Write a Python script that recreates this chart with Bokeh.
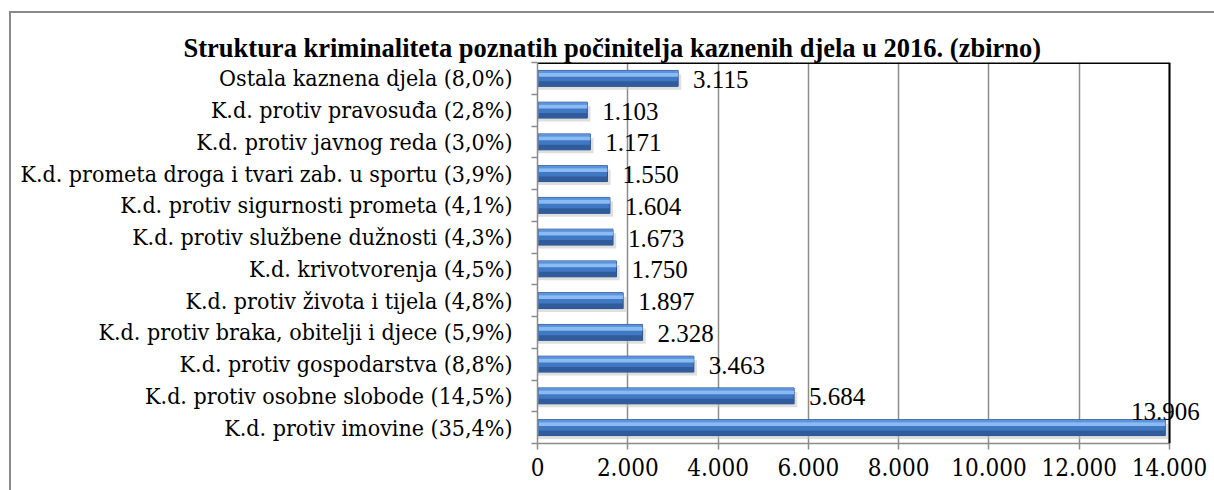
import numpy as np
from bokeh.plotting import figure
from bokeh.models import (ColumnDataSource, FixedTicker, Range1d, LabelSet, Span)
from bokeh.core.properties import field
from bokeh.embed import file_html
from bokeh.resources import INLINE

# ---------------- data ----------------
categories = [
    "K.d. protiv imovine (35,4%)",
    "K.d. protiv osobne slobode (14,5%)",
    "K.d. protiv gospodarstva (8,8%)",
    "K.d. protiv braka, obitelji i djece (5,9%)",
    "K.d. protiv života i tijela (4,8%)",
    "K.d. krivotvorenja (4,5%)",
    "K.d. protiv službene dužnosti (4,3%)",
    "K.d. protiv sigurnosti prometa (4,1%)",
    "K.d. prometa droga i tvari zab. u sportu (3,9%)",
    "K.d. protiv javnog reda (3,0%)",
    "K.d. protiv pravosuđa (2,8%)",
    "Ostala kaznena djela (8,0%)",
]
values = [13906, 5684, 3463, 2328, 1897, 1750, 1673, 1604, 1550, 1171, 1103, 3115]
value_labels = ["13.906", "5.684", "3.463", "2.328", "1.897", "1.750",
                "1.673", "1.604", "1.550", "1.171", "1.103", "3.115"]
x_ticks = [0, 2000, 4000, 6000, 8000, 10000, 12000, 14000]
x_tick_labels = ["0", "2.000", "4.000", "6.000", "8.000", "10.000", "12.000", "14.000"]
title_text = "Struktura kriminaliteta poznatih počinitelja kaznenih djela u 2016. (zbirno)"

SERIF = "DejaVu Serif Condensed"
SERIF_BOLD = "Liberation Serif"
n = len(categories)
yc = np.arange(n) + 0.5
vals = np.array(values, dtype=float)
xmax = x_ticks[-1]

W, H = 1214, 490
F_LEFT, F_AXIS_RIGHT, F_RIGHT, F_TOP, F_BOTTOM = 537, 1169, 1209, 62, 443
x_end = xmax * (F_RIGHT - F_LEFT) / (F_AXIS_RIGHT - F_LEFT)

# labels that would pass the axis end are lifted above the bar end
over = vals + 0.12 * xmax > xmax
x_off = np.where(over, 0, 15)
y_off = np.where(over, 16, -1)
align = ["center" if o else "left" for o in over]

src = ColumnDataSource(dict(
    y=yc, v=vals, lab=value_labels, xo=x_off, yo=y_off, al=align,
    sh_top=yc + 0.12, sh_bot=yc - 0.36, sh_r=vals + 70,
    t1=yc + 0.25, b1=yc + 0.17,
    t2=yc + 0.17, b2=yc + 0.05,
    t3=yc - 0.09, b3=yc - 0.25,
))

p = figure(width=W, height=H, output_backend="svg", toolbar_location=None,
           x_range=Range1d(0, x_end), y_range=Range1d(0, n),
           min_border_left=F_LEFT, min_border_right=W - F_RIGHT, min_border_top=F_TOP,
           min_border_bottom=H - F_BOTTOM)
p.background_fill_color = "white"
p.border_fill_alpha = 0
p.outline_line_color = None
p.styles = {
    "background-color": "white",
    "background-image": "linear-gradient(#8a8a8a, #8a8a8a), linear-gradient(#8a8a8a, #8a8a8a)",
    "background-size": "2px 100%, 100% 2px",
    "background-position": "9px 11px, 9px 11px",
    "background-repeat": "no-repeat",
}

p.title.text = title_text
p.title.align = "left"
p.title.offset = 183 - F_LEFT
p.title.text_font = SERIF_BOLD
p.title.text_font_size = "26.5px"
p.title.text_font_style = "bold"
p.title.text_color = "black"
p.title.standoff = 0

# bars (shadow, base, bevel bands)
p.quad(left=0, right="sh_r", top="sh_top", bottom="sh_bot", source=src,
       fill_color="#c4c4c4", fill_alpha=0.55, line_color=None)
p.hbar(y="y", left=0, right="v", height=0.5, source=src,
       fill_color="#4178C4", line_color="#2B4F86", line_width=1)
p.quad(left=30, right="v", top="t1", bottom="b1", source=src,
       fill_color="#5C93DC", line_color=None)
p.quad(left=30, right="v", top="t2", bottom="b2", source=src,
       fill_color="#8ABBF3", line_color=None)
p.quad(left=30, right="v", top="t3", bottom="b3", source=src,
       fill_color="#305C9C", line_color=None)

# black plot-area border (top and right)
p.segment(x0=0, x1=xmax, y0=n, y1=n, line_color="black", line_width=3)
p.add_layout(Span(location=xmax, dimension="height", line_color="black", line_width=2))

labels = LabelSet(x="v", y="y", text="lab", source=src, x_offset="xo", y_offset="yo",
                  text_align=field("al"), text_baseline="middle",
                  text_font=SERIF, text_font_size="25px", text_color="black")
p.add_layout(labels)

# x axis
p.xaxis.bounds = (0, xmax)
p.xaxis.ticker = FixedTicker(ticks=x_ticks)
p.xaxis.major_label_overrides = {t: l for t, l in zip(x_ticks, x_tick_labels)}
p.xaxis.major_label_text_font = SERIF
p.xaxis.major_label_text_font_size = "24px"
p.xaxis.major_label_text_color = "black"
p.xaxis.axis_line_color = "#8c8c8c"
p.xaxis.axis_line_width = 1.5
p.xaxis.major_tick_line_color = "#8c8c8c"
p.xaxis.major_tick_line_width = 1.5
p.xaxis.major_tick_out = 6
p.xaxis.major_tick_in = 0
p.xaxis.minor_tick_line_color = None
p.xaxis.major_label_standoff = 8

# y axis: labels at category centres, ticks at category boundaries
p.yaxis.ticker = FixedTicker(ticks=list(yc), minor_ticks=list(range(n + 1)))
p.yaxis.major_label_overrides = {float(y): c for y, c in zip(yc, categories)}
p.yaxis.major_label_text_font = SERIF
p.yaxis.major_label_text_font_size = "23px"
p.yaxis.major_label_text_color = "black"
p.yaxis.axis_line_color = "#8c8c8c"
p.yaxis.axis_line_width = 1.5
p.yaxis.major_tick_line_color = None
p.yaxis.major_tick_out = 0
p.yaxis.major_tick_in = 0
p.yaxis.minor_tick_line_color = "#8c8c8c"
p.yaxis.minor_tick_line_width = 1.5
p.yaxis.minor_tick_out = 6
p.yaxis.minor_tick_in = 0
p.yaxis.major_label_standoff = 19

p.xgrid.ticker = FixedTicker(ticks=x_ticks)
p.xgrid.grid_line_color = "#8c8c8c"
p.xgrid.grid_line_width = 1.5
p.ygrid.grid_line_color = None

open("out.html", "w").write(file_html(p, INLINE))
